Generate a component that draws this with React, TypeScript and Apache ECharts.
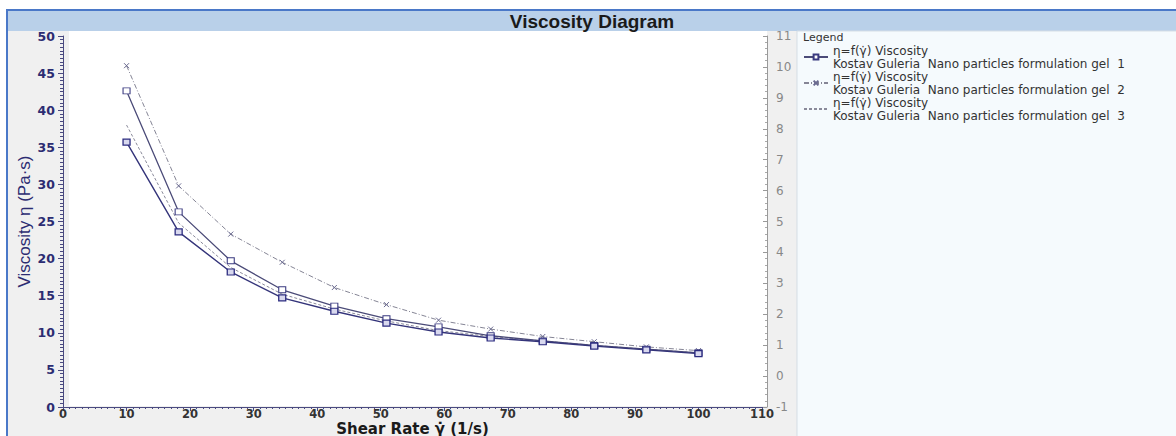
import React, { useEffect, useRef } from "react";
import * as echarts from "echarts";

const shearRate = [10, 18.2, 26.4, 34.5, 42.7, 50.9, 59.1, 67.3, 75.5, 83.6, 91.8, 100];
const gel1 = [42.6, 26.3, 19.7, 15.8, 13.6, 11.9, 10.8, 9.6, 8.9, 8.3, 7.8, 7.3];
const gel2 = [46.0, 29.8, 23.3, 19.5, 16.1, 13.8, 11.7, 10.5, 9.5, 8.8, 8.1, 7.6];
const gel3 = [38.0, 24.8, 18.8, 15.2, 13.2, 11.6, 10.3, 9.5, 8.9, 8.3, 7.8, 7.3];
const gel4 = [35.7, 23.6, 18.2, 14.7, 12.9, 11.3, 10.1, 9.3, 8.8, 8.2, 7.7, 7.2];

const legendNames = [
  "η=f(γ̇) Viscosity\nKostav Guleria  Nano particles formulation gel  1",
  "η=f(γ̇) Viscosity\nKostav Guleria  Nano particles formulation gel  2",
  "η=f(γ̇) Viscosity\nKostav Guleria  Nano particles formulation gel  3",
];
const hiddenName = "gel 4";

const xTicks = { min: 0, max: 110, interval: 10 };
const yLeftTicks = { min: 0, max: 50, interval: 5 };
const yRightTicks = { min: -1, max: 11, interval: 1 };

const pair = (ys: number[]) => shearRate.map((x, i) => [x, ys[i]]);

export default function App() {
  const ref = useRef<HTMLDivElement>(null);
  useEffect(() => {
    if (!ref.current) return;
    const chart = echarts.init(ref.current, null, { renderer: "svg" });
    const navy = "#2c2c72";
    chart.setOption({
      animation: false,
      backgroundColor: "#ffffff",
      graphic: [
        { type: "rect", z: -100, shape: { x: 7, y: 10, width: 1172, height: 430 }, style: { fill: "#f0f0f0", stroke: "#4a78c8", lineWidth: 2 } },
        { type: "rect", z: -99, shape: { x: 8, y: 11, width: 1168, height: 20 }, style: { fill: "#b9d0e9" } },
        { type: "rect", z: -99, shape: { x: 69, y: 31, width: 698, height: 375 }, style: { fill: "#ffffff" } },
        { type: "rect", z: -99, shape: { x: 797, y: 31, width: 380, height: 406 }, style: { fill: "#f5fafd", stroke: "#d5dde5", lineWidth: 1 } },
        { type: "text", z: 10, x: 592, y: 21, style: { text: "Viscosity Diagram", fontFamily: "Liberation Sans", fontWeight: "bold", fontSize: 19, fill: "#1a1a1a", align: "center", verticalAlign: "middle" } },
        { type: "text", z: 10, x: 803, y: 37, style: { text: "Legend", fontFamily: "DejaVu Sans", fontSize: 11, fill: "#333", align: "left", verticalAlign: "middle" } },
      ],
      legend: {
        data: [
          { name: legendNames[0] },
          { name: legendNames[1] },
          { name: legendNames[2], itemStyle: { color: "transparent", borderColor: "transparent" } },
        ],
        orient: "vertical",
        left: 798,
        top: 39,
        itemGap: 0,
        itemWidth: 24,
        itemHeight: 6,
        textStyle: { fontFamily: "DejaVu Sans", fontSize: 12, lineHeight: 13, color: "#333" },
      },
      grid: { left: 63, right: 414, top: 36, bottom: 29, outerBoundsMode: "none" },
      xAxis: {
        type: "value",
        min: xTicks.min,
        max: xTicks.max,
        interval: xTicks.interval,
        name: "Shear Rate γ̇ (1/s)",
        nameLocation: "middle",
        nameGap: 14,
        nameMoveOverlap: false,
        nameTextStyle: { fontFamily: "DejaVu Sans", fontWeight: "bold", fontSize: 15, color: "#1a1a1a" },
        axisLine: { show: true, onZero: false, lineStyle: { color: "#4a4a80", width: 1 } },
        axisTick: { show: true, length: 4, lineStyle: { color: "#4a4a80" } },
        minorTick: { show: true, splitNumber: 10, length: 2, lineStyle: { color: "#4a4a80" } },
        axisLabel: { fontFamily: "DejaVu Sans", fontWeight: "bold", fontSize: 11.5, color: "#333", margin: 1 },
        splitLine: { show: false },
      },
      yAxis: [
        {
          type: "value",
          min: yLeftTicks.min,
          max: yLeftTicks.max,
          interval: yLeftTicks.interval,
          name: "Viscosity η (Pa·s)",
          nameLocation: "middle",
          nameGap: 30,
          nameMoveOverlap: false,
          nameTextStyle: { fontFamily: "Liberation Sans", fontSize: 17, color: navy },
          axisLine: { show: true, onZero: false, lineStyle: { color: "#4a4a80" } },
          axisTick: { show: true, length: 5, lineStyle: { color: "#4a4a80" } },
          minorTick: { show: true, splitNumber: 10, length: 3, lineStyle: { color: "#4a4a80" } },
          axisLabel: { fontFamily: "DejaVu Sans", fontWeight: "bold", fontSize: 12.5, color: navy, margin: 8 },
          splitLine: { show: false },
        },
        {
          type: "value",
          position: "right",
          offset: 5,
          min: yRightTicks.min,
          max: yRightTicks.max,
          interval: yRightTicks.interval,
          axisLine: { show: true, onZero: false, lineStyle: { color: "#999" } },
          axisTick: { show: true, inside: true, length: 4, lineStyle: { color: "#999" } },
          minorTick: { show: true, splitNumber: 5, length: 2, lineStyle: { color: "#aaa" } },
          axisLabel: { fontFamily: "DejaVu Sans", fontSize: 12, color: "#888", margin: 9 },
          splitLine: { show: false },
        },
      ],
      series: [
        {
          name: legendNames[0],
          type: "line",
          data: pair(gel1),
          symbol: "rect",
          symbolSize: [7, 6],
          lineStyle: { color: "#4b4b78", width: 1.3, type: "solid" },
          itemStyle: { color: "#ffffff", borderColor: "#3a3a80", borderWidth: 1 },
          z: 4,
        },
        {
          name: legendNames[1],
          type: "line",
          data: pair(gel2),
          symbol: "path://M0,0L10,10M10,0L0,10",
          symbolSize: 5,
          lineStyle: { color: "#858595", width: 1, type: [5, 2, 1, 2] },
          itemStyle: { color: "transparent", borderColor: "#6a6a90", borderWidth: 1 },
          z: 3,
        },
        {
          name: legendNames[2],
          type: "line",
          data: pair(gel3),
          symbol: "none",
          lineStyle: { color: "#8a8a9a", width: 1, type: [3, 2] },
          itemStyle: { color: "#8a8a9a" },
          z: 3,
        },
        {
          name: hiddenName,
          type: "line",
          data: pair(gel4),
          symbol: "rect",
          symbolSize: [7, 6],
          lineStyle: { color: "#34347a", width: 1.4, type: "solid" },
          itemStyle: { color: "#d8d8ee", borderColor: "#2c2c80", borderWidth: 1.2 },
          z: 5,
        },
      ],
    });
    return () => chart.dispose();
  }, []);
  return <div ref={ref} style={{ width: 1176, height: 436, position: "absolute", left: 0, top: 0 }} />;
}
